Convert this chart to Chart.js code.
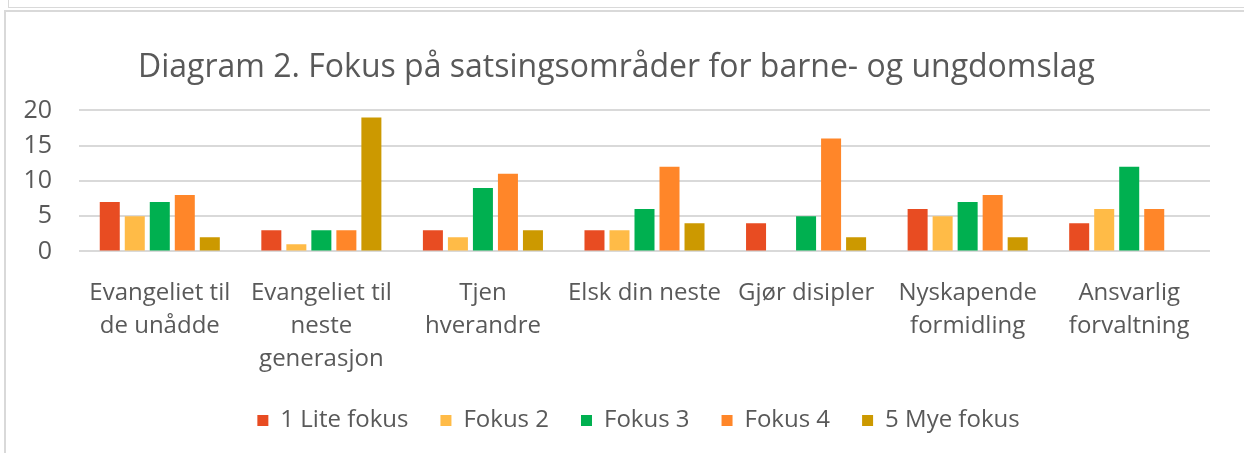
<!DOCTYPE html>
<html>
<head>
<meta charset="utf-8">
<script src="https://cdn.jsdelivr.net/npm/chart.js@4.4.1/dist/chart.umd.min.js"></script>
<style>
  html, body { margin: 0; padding: 0; background: #fff; }
  #wrap { position: relative; width: 1244px; height: 453px; overflow: hidden; }
  #myBarChart { position: absolute; left: 0; top: 0; }
  .line { position: absolute; background: #d9d9d9; }
</style>
</head>
<body>
<div id="wrap">
  <canvas id="myBarChart" width="1244" height="453"></canvas>
  <!-- rammer fra Excel-utklippet -->
  <div class="line" style="left:8px;top:0;width:1px;height:8px;"></div>
  <div class="line" style="left:8px;top:7px;width:1236px;height:1px;"></div>
  <div class="line" style="left:4px;top:10px;width:1240px;height:2px;"></div>
  <div class="line" style="left:4px;top:10px;width:2px;height:443px;"></div>
</div>
<script>
var categories = [
    ['Evangeliet til', 'de unådde'],
    ['Evangeliet til', 'neste', 'generasjon'],
    ['Tjen', 'hverandre'],
    'Elsk din neste',
    'Gjør disipler',
    ['Nyskapende', 'formidling'],
    ['Ansvarlig', 'forvaltning']
];
var seriesNames = ['1 Lite fokus', 'Fokus 2', 'Fokus 3', 'Fokus 4', '5 Mye fokus'];
var liteFokus = [7, 3, 3, 3, 4, 6, 4];
var fokus2 = [5, 1, 2, 3, 0, 5, 6];
var fokus3 = [7, 3, 9, 6, 5, 7, 12];
var fokus4 = [8, 3, 11, 12, 16, 8, 6];
var myeFokus = [2, 19, 3, 4, 2, 2, 0];
var yTicks = [0, 5, 10, 15, 20];

var colors = ['#e84c22', '#ffbb47', '#00b050', '#ff8629', '#cc9900'];
var values = [liteFokus, fokus2, fokus3, fokus4, myeFokus];
var fontFamily = '"Open Sans", sans-serif';
var textColor = '#595959';

var datasets = seriesNames.map(function(name, i) {
    return {
        label: name,
        data: values[i],
        backgroundColor: colors[i],
        borderWidth: 0,
        barPercentage: 0.8,
        categoryPercentage: 0.774
    };
});

// flytt forklaringen litt mot høyre, slik som i Excel-figuren
var shiftLegend = {
    id: 'shiftLegend',
    afterLayout: function(chart) {
        chart.legend.left += 22;
        chart.legend.right += 22;
    }
};

var ctx = document.getElementById('myBarChart').getContext('2d');
var myBarChart = new Chart(ctx, {
    type: 'bar',
    data: { labels: categories, datasets: datasets },
    plugins: [shiftLegend],
    options: {
        responsive: false,
        animation: false,
        layout: { padding: { left: 23, right: 34, top: 0, bottom: 10.6 } },
        plugins: {
            title: {
                display: true,
                text: 'Diagram 2. Fokus på satsingsområder for barne- og ungdomslag',
                color: textColor,
                font: { family: fontFamily, size: 32, weight: 'normal' },
                padding: { top: 49, bottom: 23 }
            },
            legend: {
                position: 'bottom',
                labels: {
                    color: textColor,
                    font: { family: fontFamily, size: 24 },
                    boxWidth: 11,
                    boxHeight: 11,
                    padding: 32
                }
            },
            tooltip: { enabled: false }
        },
        scales: {
            x: {
                grid: { display: false },
                border: { display: false },
                afterFit: function(axis) {
                    axis.height = 125;
                },
                ticks: {
                    color: textColor,
                    font: { family: fontFamily, size: 24, lineHeight: 1.38 },
                    maxRotation: 0,
                    autoSkip: false,
                    padding: 17
                }
            },
            y: {
                min: 0,
                max: 20,
                afterBuildTicks: function(axis) {
                    axis.ticks = yTicks.map(function(v) { return { value: v }; });
                },
                afterFit: function(axis) {
                    axis.width = 56;
                },
                grid: { color: '#d9d9d9', lineWidth: 2, drawTicks: false },
                border: { display: false },
                ticks: {
                    color: textColor,
                    font: { family: fontFamily, size: 25 },
                    autoSkip: false,
                    padding: 27
                }
            }
        }
    }
});
</script>
</body>
</html>
